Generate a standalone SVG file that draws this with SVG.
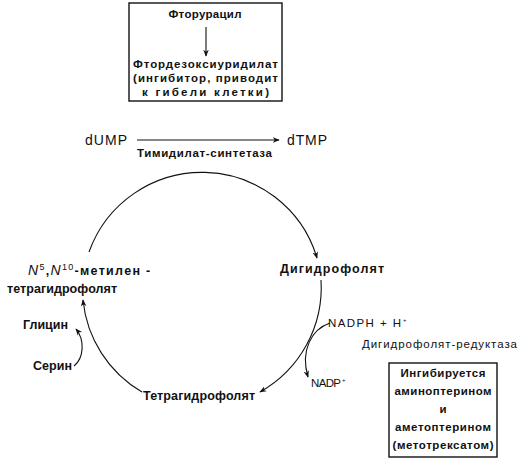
<svg xmlns="http://www.w3.org/2000/svg" width="528" height="464" viewBox="0 0 528 464">
<style>
text{font-family:"Liberation Sans",Arial,sans-serif;fill:#111;}
.b{font-weight:bold;font-size:12.5px;}
.s{font-weight:bold;font-size:11.5px;}
.r{font-size:14px;}
.n{font-size:11.5px;}
.ln{fill:none;stroke:#111;stroke-width:1.1;}
.box{fill:none;stroke:#111;stroke-width:1.4;}
</style>
<defs>
<marker id="ah" viewBox="0 0 10 10" refX="9" refY="5" markerWidth="7" markerHeight="7" markerUnits="userSpaceOnUse" orient="auto">
<path d="M0,1 L10,5 L0,9 L3,5 Z" fill="#111"/>
</marker>
</defs>
<g id="node-fluorouracil-box">
<rect class="box" x="129" y="3" width="153" height="98"/>
<text class="s" x="205" y="18" text-anchor="middle" textLength="73" lengthAdjust="spacing">Фторурацил</text>
<text class="s" x="205.5" y="68" text-anchor="middle" textLength="145" lengthAdjust="spacing">Фтордезоксиуридилат</text>
<text class="s" x="205.5" y="82" text-anchor="middle" textLength="145" lengthAdjust="spacing">(ингибитор, приводит</text>
<text class="s" x="205.5" y="96" text-anchor="middle" textLength="127" lengthAdjust="spacing">к гибели клетки)</text>
</g>
<g id="node-dump"><text class="r" x="85" y="145" textLength="42" lengthAdjust="spacing">dUMP</text></g>
<g id="node-dtmp"><text class="r" x="287" y="145" textLength="40" lengthAdjust="spacing">dTMP</text></g>
<g id="label-ts"><text class="s" x="137" y="157" textLength="135" lengthAdjust="spacing">Тимидилат-синтетаза</text></g>
<g id="node-methylene">
<text class="b" x="28" y="275" font-size="13px" letter-spacing="1.3"><tspan font-style="italic" font-weight="normal" font-size="14px">N</tspan><tspan font-weight="normal" font-size="9px" dy="-5">5</tspan><tspan dy="5">,</tspan><tspan font-style="italic" font-weight="normal" font-size="14px">N</tspan><tspan font-weight="normal" font-size="9px" dy="-5">10</tspan><tspan dy="5">-метилен -</tspan></text>
<text class="b" x="7" y="293" textLength="110" lengthAdjust="spacing">тетрагидрофолят</text>
</g>
<g id="node-dhf"><text class="b" x="280" y="273" textLength="104" lengthAdjust="spacing">Дигидрофолят</text></g>
<g id="node-thf"><text class="b" x="143" y="400" textLength="112" lengthAdjust="spacing">Тетрагидрофолят</text></g>
<g id="node-glycine"><text class="b" x="23" y="329" textLength="45" lengthAdjust="spacing">Глицин</text></g>
<g id="node-serine"><text class="b" x="33" y="370" textLength="39" lengthAdjust="spacing">Серин</text></g>
<g id="node-nadph"><text class="n" x="328" y="327" textLength="73" lengthAdjust="spacing">NADPH + H</text><text x="403" y="322" font-size="6px">+</text></g>
<g id="node-nadp"><text class="n" x="311" y="387" font-size="10px" textLength="30" lengthAdjust="spacing">NADP</text><text x="342" y="382" font-size="6px">+</text></g>
<g id="label-dhfr"><text x="362" y="348" font-size="11.5px" textLength="155" lengthAdjust="spacing">Дигидрофолят-редуктаза</text></g>
<g id="node-inhibitor-box">
<rect class="box" x="389" y="363" width="108" height="94"/>
<text class="s" x="443" y="377" text-anchor="middle" textLength="85" lengthAdjust="spacing">Ингибируется</text>
<text class="s" x="443" y="395" text-anchor="middle" textLength="97" lengthAdjust="spacing">аминоптерином</text>
<text class="s" x="443" y="413" text-anchor="middle">и</text>
<text class="s" x="443" y="431" text-anchor="middle" textLength="96" lengthAdjust="spacing">аметоптерином</text>
<text class="s" x="443" y="449" text-anchor="middle" textLength="101" lengthAdjust="spacing">(метотрексатом)</text>
</g>
<g id="connectors">
<path class="ln" d="M206,27 L206,56" marker-end="url(#ah)"/>
<path class="ln" d="M137,140 L279,140" marker-end="url(#ah)"/>
<path class="ln" d="M89,252 A120,120 0 0 1 317,258" marker-end="url(#ah)"/>
<path class="ln" d="M321,280 A120,120 0 0 1 260,392" marker-end="url(#ah)"/>
<path class="ln" d="M142,392 A120,120 0 0 1 83,300" marker-end="url(#ah)"/>
<path class="ln" d="M330,323 C312,329 300,350 308,377" marker-end="url(#ah)"/>
<path class="ln" d="M74,366 C84,358 85,340 76,329" marker-end="url(#ah)"/>
</g>
</svg>
